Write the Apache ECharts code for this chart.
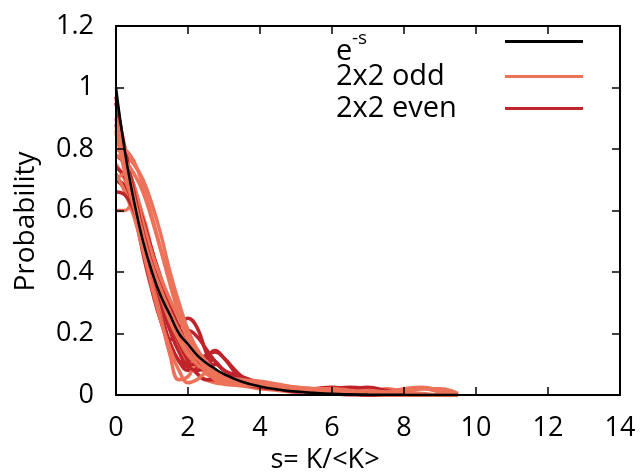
<!DOCTYPE html>
<html>
<head>
<meta charset="utf-8">
<script src="https://cdn.jsdelivr.net/npm/echarts@6/dist/echarts.min.js"></script>
<style>html,body{margin:0;padding:0;background:#fff}#c{width:642px;height:472px}</style>
</head>
<body>
<div id="c"></div>
<script>
// s = K/<K> sample positions
var sGrid = [0,0.25,0.5,0.75,1,1.25,1.5,1.75,2,2.25,2.5,2.75,3,3.5,4,4.5,5,5.5,6,6.5,7,7.5,8,8.5,9,9.5];

// reference curve e^-s (as drawn)
var expCurve = [1.0,0.79,0.63,0.50,0.40,0.32,0.26,0.20,0.165,0.13,0.105,0.085,0.068,0.043,0.028,0.018,0.011,0.007,0.004,0.0025,0.0015,0.001,0.0005,0.0003,0.0002,0.0001];

// 2x2 odd curves
var odd1  = [0.60,0.60,0.63,0.58,0.47,0.37,0.28,0.20,0.14,0.10,0.08,0.06,0.05,0.04,0.03,0.025,0.02,0.015,0.02,0.015,0.01,0.015,0.01,0.005,0,0];
var odd2  = [0.95,0.80,0.66,0.52,0.40,0.30,0.22,0.15,0.10,0.07,0.05,0.04,0.035,0.03,0.02,0.015,0.01,0.015,0.01,0.01,0.005,0,0,0,0,0];
var odd3  = [0.85,0.76,0.68,0.58,0.47,0.37,0.29,0.22,0.15,0.10,0.07,0.05,0.04,0.035,0.03,0.02,0.02,0.01,0.015,0.01,0.01,0.005,0,0,0,0];
var odd4  = [0.75,0.70,0.62,0.50,0.38,0.25,0.13,0.05,0.06,0.10,0.08,0.05,0.04,0.03,0.03,0.025,0.02,0.02,0.015,0.02,0.01,0.02,0.015,0.02,0.01,0];
var odd5  = [0.80,0.78,0.75,0.70,0.62,0.52,0.40,0.30,0.21,0.14,0.09,0.06,0.05,0.045,0.035,0.025,0.02,0.015,0.01,0.01,0.01,0.005,0,0,0,0];
var odd6  = [0.70,0.72,0.66,0.56,0.46,0.38,0.31,0.25,0.19,0.14,0.10,0.07,0.05,0.05,0.04,0.03,0.02,0.015,0.01,0.01,0.005,0,0,0,0,0];
var odd7  = [0.72,0.66,0.58,0.47,0.35,0.24,0.15,0.08,0.04,0.05,0.07,0.06,0.045,0.04,0.035,0.03,0.025,0.02,0.02,0.015,0.01,0.01,0.02,0.025,0.015,0];
var odd8  = [0.90,0.77,0.64,0.52,0.41,0.32,0.24,0.18,0.13,0.10,0.08,0.065,0.05,0.04,0.03,0.03,0.02,0.015,0.02,0.01,0.015,0.01,0.01,0.02,0.02,0.005];
var odd9  = [0.78,0.76,0.72,0.66,0.57,0.47,0.37,0.28,0.21,0.15,0.11,0.08,0.06,0.045,0.035,0.03,0.02,0.02,0.015,0.01,0.01,0.005,0.005,0,0,0];
var odd10 = [0.86,0.72,0.61,0.51,0.42,0.34,0.27,0.21,0.16,0.12,0.09,0.07,0.05,0.035,0.03,0.025,0.02,0.015,0.015,0.01,0.005,0,0,0,0,0];
var odd11 = [0.82,0.80,0.76,0.68,0.58,0.47,0.36,0.26,0.18,0.13,0.10,0.08,0.06,0.05,0.045,0.035,0.025,0.02,0.01,0.01,0.005,0,0,0,0,0];

// 2x2 even curves
var even1 = [0.97,0.78,0.61,0.46,0.34,0.24,0.18,0.22,0.25,0.22,0.14,0.08,0.05,0.04,0.03,0.02,0.015,0.01,0.01,0.005,0,0,0,0,0,0];
var even2 = [0.70,0.67,0.60,0.50,0.38,0.27,0.17,0.11,0.08,0.09,0.12,0.145,0.12,0.05,0.03,0.02,0.015,0.01,0.015,0.02,0.01,0,0,0,0,0];
var even3 = [0.78,0.75,0.68,0.56,0.44,0.33,0.24,0.17,0.12,0.11,0.13,0.14,0.12,0.06,0.035,0.02,0.015,0.01,0.01,0.005,0,0,0,0,0,0];
var even4 = [0.70,0.68,0.62,0.54,0.44,0.34,0.25,0.18,0.11,0.07,0.05,0.05,0.06,0.05,0.03,0.02,0.02,0.015,0.02,0.025,0.02,0.01,0,0,0,0];
var even5 = [0.88,0.74,0.61,0.48,0.35,0.24,0.16,0.11,0.09,0.08,0.09,0.10,0.08,0.04,0.025,0.02,0.015,0.02,0.025,0.02,0.025,0.015,0.005,0,0,0];
var even6 = [0.74,0.71,0.65,0.57,0.47,0.38,0.29,0.22,0.16,0.12,0.09,0.07,0.06,0.05,0.035,0.025,0.015,0.01,0.01,0.005,0,0,0,0,0,0];
var even7 = [0.95,0.80,0.66,0.53,0.42,0.32,0.24,0.20,0.21,0.19,0.15,0.11,0.08,0.045,0.03,0.02,0.01,0.01,0.005,0,0,0,0,0,0,0];
var even8 = [0.66,0.65,0.60,0.52,0.41,0.30,0.21,0.14,0.10,0.10,0.12,0.11,0.08,0.06,0.04,0.03,0.02,0.015,0.01,0.01,0.005,0,0,0,0,0];

var xTickLabels = ['0','2','4','6','8','10','12','14'];
var yTickLabels = ['0','0.2','0.4','0.6','0.8','1','1.2'];
var xMax = 14, yMax = 1.2;

var legendNames = ['e-s','2x2 odd','2x2 even'];

var FONT = 'Open Sans';
var ODD = '#EC7259';
var EVEN = '#C0242B';

function toPts(arr){ return sGrid.map(function(s,i){ return [s, arr[i]]; }); }
function curve(name, arr, color, width){
  return {type:'line', name:name, data:toPts(arr), smooth:0.45,
    symbol:'none', showSymbol:false,
    lineStyle:{color:color, width:width}, itemStyle:{color:color}};
}

var oddSets = [odd1,odd2,odd3,odd4,odd5,odd6,odd7,odd8,odd9,odd10,odd11];
var evenSets = [even1,even2,even3,even4,even5,even6,even7,even8];
var series = [];
series.push(curve('2x2 odd', oddSets[0], ODD, 3.5));
series.push(curve('2x2 even', evenSets[0], EVEN, 3.5));
var n = Math.max(oddSets.length, evenSets.length);
for (var i=1;i<n;i++){
  if (evenSets[i]) series.push(curve('2x2 even', evenSets[i], EVEN, 3.5));
  if (oddSets[i]) series.push(curve('2x2 odd', oddSets[i], ODD, 3.5));
}
series.push(curve('e-s', expCurve, '#000000', 2.5));

var legendTops = [12, 57, 89];
function makeRich(){
  return {
    t:{fontFamily:FONT, fontSize:29, color:'#000', lineHeight:31, width:164, align:'left'},
    e:{fontFamily:FONT, fontSize:29, color:'#000', lineHeight:31, width:16, align:'left', padding:[20,0,0,0]},
    sup:{fontFamily:FONT, fontSize:19, color:'#000', lineHeight:2, padding:[0,0,5,0], width:148, align:'left'}
  };
}
var legends = legendNames.map(function(name, i){
  return {
    data:[name], orient:'vertical', left:331, top:legendTops[i], align:'right',
    icon:'rect', itemWidth:78, itemHeight:3, selectedMode:false,
    formatter:function(nm){
      if (nm==='e-s') return '{e|e}{sup|-s}';
      return '{t|'+nm+'}';
    },
    textStyle:{fontFamily:FONT, fontSize:29, color:'#000', rich:makeRich()}
  };
});

function axLine(){ return {show:true, onZero:false, lineStyle:{color:'#000', width:2}}; }
function axTick(){ return {show:true, inside:true, length:8, lineStyle:{color:'#000', width:1.5}}; }
function ghostLabels(list, step){
  return {show:true, color:'rgba(0,0,0,0)', fontSize:10,
    formatter:function(v){ return list[Math.round(v/step)]; }};
}

var chart = echarts.init(document.getElementById('c'));
chart.setOption({
  animation:false,
  grid:{left:116, right:22, top:26, bottom:77, containLabel:false, outerBoundsMode:'none',
        show:true, borderColor:'#000', borderWidth:2, z:10},
  legend:legends,
  xAxis:[{
    type:'value', min:0, max:xMax, interval:2, position:'bottom', z:10,
    axisLine:axLine(), axisTick:axTick(), splitLine:{show:false},
    axisLabel:{fontFamily:FONT, fontSize:27, color:'#000', margin:20,
      formatter:function(v){ return xTickLabels[Math.round(v/2)]; }},
    name:'s= K/<K>', nameLocation:'middle', nameGap:50,
    nameTextStyle:{fontFamily:FONT, fontSize:27, color:'#000', padding:[0,86,0,0]}
  },{
    type:'value', min:0, max:xMax, interval:2, position:'top', z:10,
    axisLine:axLine(), axisTick:axTick(), axisLabel:ghostLabels(xTickLabels, 2), splitLine:{show:false}
  }],
  yAxis:[{
    type:'value', min:0, max:yMax, interval:0.2, position:'left', z:10,
    axisLine:axLine(), axisTick:axTick(), splitLine:{show:false},
    axisLabel:{fontFamily:FONT, fontSize:27, color:'#000', margin:22,
      formatter:function(v){ return yTickLabels[Math.round(v/0.2)]; }},
    name:'Probability', nameLocation:'middle', nameGap:76, nameRotate:90,
    nameTextStyle:{fontFamily:FONT, fontSize:28, color:'#000', padding:[0,0,0,-22]}
  },{
    type:'value', min:0, max:yMax, interval:0.2, position:'right', z:10,
    axisLine:axLine(), axisTick:axTick(), axisLabel:ghostLabels(yTickLabels, 0.2), splitLine:{show:false}
  }],
  series:series
});
</script>
</body>
</html>
